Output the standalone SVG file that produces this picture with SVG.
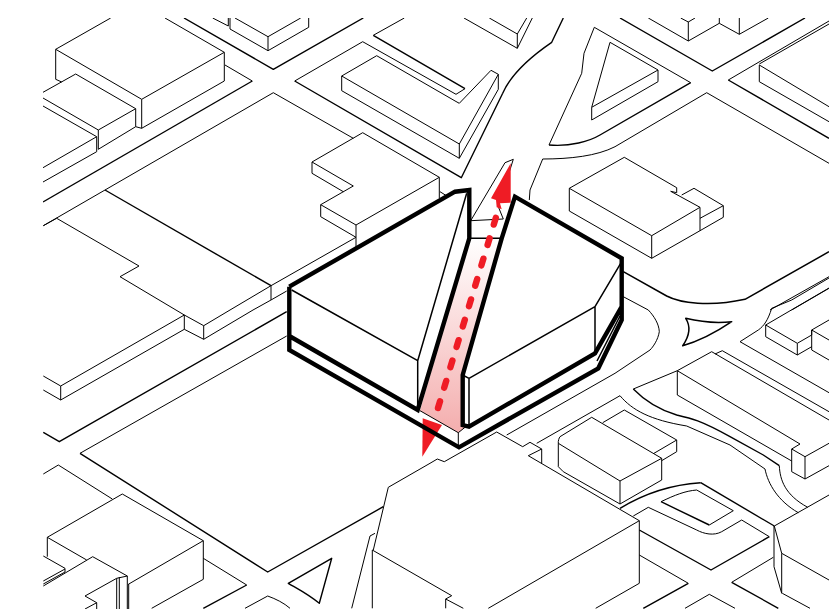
<svg xmlns="http://www.w3.org/2000/svg" width="829" height="609" viewBox="0 0 829 609">
<style>
path{fill:none;stroke:#000;stroke-width:1;stroke-linejoin:round}
.r{stroke-width:1.4}
.m{stroke-width:1.5}
.b{stroke-width:4.4;stroke-linejoin:miter}
.red{fill:#ef1c25;stroke:none}
.dash{stroke:#ef1c25;stroke-width:6.4;stroke-linecap:round;stroke-dasharray:7 14.3}
</style>
<defs>
<clipPath id="c"><rect x="43" y="18" width="786" height="591"/></clipPath>
<linearGradient id="g" x1="0" y1="238" x2="0" y2="432" gradientUnits="userSpaceOnUse"><stop offset="0" stop-color="#fff"/><stop offset="1" stop-color="#f4aeae"/></linearGradient>
</defs>
<rect width="829" height="609" fill="#fff"/>
<g clip-path="url(#c)">
<g id="context-nw">
<path d="M110.7 18L55.7 49.3L141.7 99.3L224.3 52.3L165 18M55.7 49.3V79.3L61.7 82M141.7 99.3V128.3L224.3 81V52.3M225 65L252.3 81"/>
<path class="r" d="M252.3 81L43 202"/>
<path d="M43 92.3L75.7 74L135.7 108.7L98.3 130L43 98M98.3 130V149.3L135.7 126.7V108.7M135.7 126.7L141.7 128.3M43 106L96.7 136.7V151.7L43 182M96.7 136.7L43 167.7"/>
<path class="r" d="M184 18L273.3 69.3L363.3 18"/>
<path d="M230 18V29L268 50.7L308.7 27.3V18M235 18L268 36.7L300.7 18M268 36.7V50.7M212.7 18L228.3 26V18"/>
<path class="r" d="M373.3 35.3L465 88.7M294.7 81L461.3 177.7L502.7 93.3C508 81 520 64 551.7 42.3L563.3 18"/>
<path d="M465 88.7L456 94.3L362.7 41.7M373.3 35.3L404.3 18M464 18L517.3 48.3V34L489.3 18M517.3 34L526.7 18M517.3 48.3L532.3 18"/>
<path d="M294.7 81L362.7 41.7M341.7 76L376.7 55.7L456 101.5L459.3 103.3L491 70.3L498.3 74.3L459.3 144L341.7 76V90.7L459.3 158.3L498.3 89.3V74.3M459.3 144V158.3"/>
</g>
<g id="context-w">
<path d="M353.3 138.3L273.3 92.7L105 190L43.3 225.7"/>
<path class="r" d="M105 190L271 285.7"/>
<path d="M312 162L362.7 132.7L439.3 177.3L356 225L320.7 204.7L353.3 186L312 162V173.3L343.3 191.7M320.7 204.7V216.7L356 237.3M356 225V246.7M439.3 177.3V198M440 191.7L448 196.7"/>
<path d="M356 237.3L271 285.7V300L253 310L203.7 339.3V325.7L230 310L271 285.7M203.7 325.7L184.3 315L120 276.7L139 266L56.7 218.3L43.3 225.7M184.3 315V329.3L203.7 339.3M184.3 315L60.7 386V400L43.3 390M60.7 386L43.3 376M184.3 329.3L60.7 400M271 300L286.7 291"/>
<path class="r" d="M286.7 311.7L59.3 441.7L43.3 432.3"/>
<path d="M286.7 336L80 453.3"/>
<path class="r" d="M80 453.3L267.7 572L383.3 506.7"/>
</g>
<g id="context-sw">
<path d="M58.3 465L112.3 499M58.3 465L43.3 474M47.3 537.3L122.3 494L203.3 540.7V579.3L151.7 608.3M203.3 540.7L128.3 584.3M47.3 537.3V556.7M47.3 537.3L86.7 560M203.3 558.3L246.7 585"/>
<path class="r" d="M246.7 585L203.3 608.3"/>
<path d="M43.3 556L65 568.3V572L43.3 584M65 569L43.3 581M43.3 586L92.7 556.7L127.3 576V609M128.7 584V609M116.7 578.3L85 596L96.7 602.7V609M116.7 578.3V609M119.3 577V609M116.7 578.3L127.3 576M96.7 602.7L85 609"/>
<path class="r" d="M288.3 583.3L331.7 558.3L319.3 603.3C308 594 298 589 288.3 583.3Z"/>
<path d="M245 608.3L267.7 596C276 599 284 603 290 608.3"/>
</g>
<g id="context-s">
<path d="M388.3 487.3L430 463.3L437.3 459L444.3 461.7L496.7 432L522.7 446.7L530 442.3L541.7 449V463.3M528.3 455.7L541.7 449M528.3 455.7L639.3 520.7V583.3L595.7 608.3M639.3 520.7L488.3 608.3M388.3 487.3L373.3 550M370 536L375 533.3M370 536L351.7 608.3M372.3 550V608.3M372.3 550L451.7 595.7L445.7 599V608.3M445.7 599L463.3 608.3"/>
</g>
<g id="context-ne">
<path class="r" d="M620 18L712.3 71L805 18M728.3 80L829 138.3"/>
<path d="M648.3 18L688.3 41L719.3 23.3L739.3 34.3L768.3 18M688.3 21.7V41M680.7 18L688.3 22L695 18M719.3 18V23.3M739.3 18V34.3"/>
<path d="M728.3 80L829 21M759.3 64L829 24M759.3 65L829 106.7M759.3 65V81.7L829 121.7"/>
<path d="M549 145L581.7 73.3L584 53.3L594.3 27.3L690.7 82.7"/>
<path class="r" d="M690.7 82.7L600 135C590 141 570 147 549 145"/>
<path d="M591.7 107.3L610 42.3L658 70L591.7 107.3V120L658 81.7V70"/>
<path d="M529.3 200L530 190L542.7 159C570 159 597 156 615 146.7L706.7 92.7L829 163.3"/>
<path d="M569.3 188.3L624.3 157.3L676.7 187.7V192.7L670.7 191.3L700 207.3L651.7 235.7L569.3 188.3V211L651.7 258.3L700 230.7V207.3M651.7 235.7V258.3M681.7 195L694 188.3L723.3 205.7V217.3L700 230.7M700 218.3L723.3 205.7"/>
<path class="m" d="M623.3 271.7L666.7 296C680 303 710 307 745 299.3L829 251.7"/>
<path d="M622 296L648.3 310C654 316 659 324 659.3 331.7C658 340 653 347 650 350L630 363.3L615 373.3L506.7 435"/>
<path d="M770 310L829 276.7M791.7 310L829 288.3"/>
</g>
<g id="context-e">
<path d="M740 341.7L829 392.7M740 341.7L758.3 330C764 326 768 320 771.7 308.3L791.7 300L829 278"/>
<path d="M765.7 325L797.3 343.3L811.7 335V330L829 320M765.7 325L829 288M765.7 325V336.7L797.3 355V343.3M797.3 355L811.7 346.7M811.7 330L829 340M811.7 330V350L829 360"/>
<path class="m" d="M685.7 318.3C705 323 720 323 731.7 321.7C715 333 700 341 682.7 345.7C688 338 692 328 685.7 318.3Z"/>
<path d="M633.3 389L677.3 370.7L711.7 351.7L829 420M715 354L722.3 350.7L829 411.7M677.3 370.7L800 444L791.7 449L805 456.7L829 443.3M791.7 449V471.7L805 479V456.7M805 479L829 465.7M677.3 370.7V395L791.7 461"/>
<path class="r" d="M633.3 389C645 401 660 410 676.7 415C690 418 700 420 730 436.7L763.3 455L779.3 465.7"/>
<path d="M779.3 465.7C780 480 785 495 807.7 507.3M620 395.7C632 410 650 420 686.7 426L730 445L765 469C768 484 778 501 798.3 512.7M620 395.7L536.7 443.3"/>
</g>
<g id="context-se">
<path d="M558.3 443.3C558 441 559 438 560 436.7L591.7 417.3L661.7 458.3L620 481L558.3 443.3V466.7L563.3 471.7L620 504L661.7 480V458.3M620 481V504M602.7 422.7L624.3 410L676.7 440L654 453.3M676.7 440V451.7L661.7 460.7"/>
<path class="m" d="M700.7 482.7C680 484 650 490 620 508.3"/>
<path class="r" d="M700.7 482.7L774.3 526"/>
<path d="M774.3 526L829 495M661 501.7C675 495 685 491 696.7 490L733.3 510.7L709.3 525"/>
<path class="r" d="M709.3 525L661 501.7"/>
<path d="M633.3 516L648.3 507.3L696.7 530C704 534 714 536 721.7 531.7L741.7 520L769.3 536.7"/>
<path class="r" d="M769.3 536.7L711 570L639.3 530M688.3 583.3L643.3 608.3"/>
<path d="M639.3 555L688.3 583.3M709.3 594.3L685 608.3M709.3 594.3L735 608.3M731.7 582.3L773.3 557.3M781.7 553.3L829 580M782.3 593.3L810 608.3"/>
<path class="r" d="M731.7 582.3L778.3 608.3"/>
<path d="M774.3 526L781.7 553.3V593.3L774 566.7V526"/>
</g>
<g id="site">
<path style="fill:url(#g);stroke:none" d="M469.3 238.3H501.7L462.7 375V425L465 427.3L458.3 432.7L420 410.7Z"/>
<path d="M470.7 220.7L505 162.7L513.3 159.3L498.3 206.7L503.3 219L470.7 220.7"/>
<path class="m" d="M469.3 238.3H501.7"/>
<path d="M420 410.7L458.3 432.7V447M458.3 432.7L465 427.3"/>
</g>
<g id="route">
<path class="dash" d="M438 408L497 214"/>
<path class="red" d="M510.7 163.3L491 198.3L496 200L496.7 207.3L501.7 209.3L500 203.3L510.7 202.7Z"/>
<path class="red" d="M422.7 418.3L422.3 456.7L442 425Z"/>
</g>
<g id="building">
<path class="m" d="M291.7 290L417.7 360.7V410M417.7 360.7L466.7 193.3M469 378.3L595 306.7L621.7 261.7M595 306.7V353.3M469 378.3V426.7M462.7 375L469 378.3M597 361L620 316"/>
<path class="b" d="M289.3 286.7L455 191.7L469.3 190V238.3L417.7 410L289.3 336M289.3 286.7V350L459 447.3L598.3 368.3L621.7 320V258.3L515 196.7L501.7 238.3L462.7 375V425L469 426.7L595 353.3L621.7 306.7"/>
</g>
</g>
</svg>
